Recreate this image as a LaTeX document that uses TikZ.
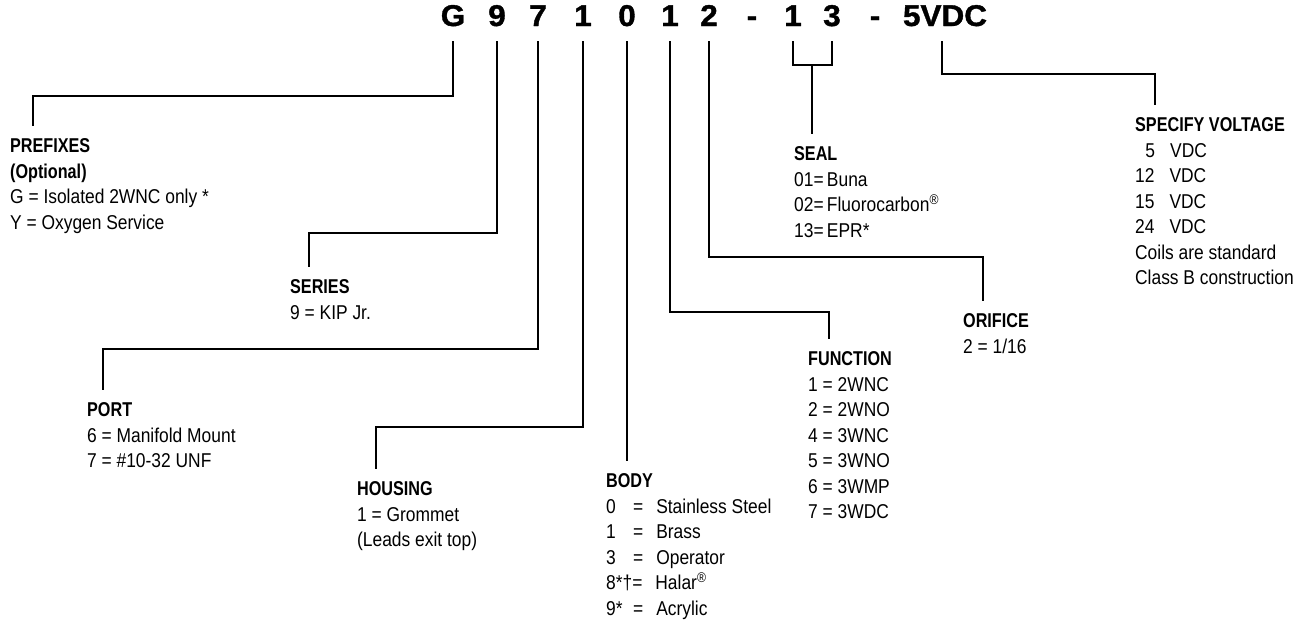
\documentclass[tikz,border=0pt]{standalone}
\usepackage{fontspec}
\setmainfont{Liberation Sans}[FakeStretch=0.87]
\newfontfamily\regf{Liberation Sans}[FakeStretch=0.87]
\newfontfamily\boldf{Liberation Sans}[FakeStretch=0.81]
\newfontfamily\codef{Liberation Sans}[FakeStretch=1.05,FakeBold=1.2]
\newcommand\ttl[1]{{\boldf\bfseries #1}}
\newcommand\kvb[2]{\makebox[27pt][l]{#1}=\hspace{13pt}#2}
\begin{document}
\begin{tikzpicture}[x=1pt,y=-1pt, line width=2.3pt, line cap=butt, line join=miter,
  codech/.style={font=\codef\bfseries\fontsize{30}{31}\selectfont, inner xsep=0pt, inner ysep=14pt, anchor=base},
  lbl/.style={anchor=north west, inner xsep=0pt, inner ysep=11.5pt, align=left, font=\regf\fontsize{20}{25.5}\selectfont},
  lead/.style={draw=black}]
\useasboundingbox (0,0) rectangle (1301,619);

% code characters
\node[codech] (cG)  at (453,26) {G};
\node[codech] (c9)  at (497,26) {9};
\node[codech] (c7)  at (538,26) {7};
\node[codech] (c1a) at (583,26) {1};
\node[codech] (c0)  at (627,26) {0};
\node[codech] (c1b) at (670,26) {1};
\node[codech] (c2)  at (709,26) {2};
\node[codech] (d1)  at (752,26) {-};
\node[codech] (c1c) at (793,26) {1};
\node[codech] (c3)  at (832,26) {3};
\node[codech] (d2)  at (875,26) {-};
\node[codech] (cV)  at (945,26) {5VDC};

% labels
\node[lbl] (pre) at (9,126) {\ttl{PREFIXES}\\ \ttl{(Optional)}\\ G = Isolated 2WNC only *\\ Y = Oxygen Service};
\node[lbl] (ser) at (289,267) {\ttl{SERIES}\\ 9 = KIP Jr.};
\node[lbl] (port) at (86,390) {\ttl{PORT}\\ 6 = Manifold Mount\\ 7 = \#10-32 UNF};
\node[lbl] (hous) at (356,469) {\ttl{HOUSING}\\ 1 = Grommet\\ (Leads exit top)};
\node[lbl] (body) at (605,461) {\ttl{BODY}\\ \kvb{0}{Stainless Steel}\\ \kvb{1}{Brass}\\ \kvb{3}{Operator}\\ 8*†=\hspace{13pt}Halar\textsuperscript{®}\\ \kvb{9*}{Acrylic}};
\node[lbl] (func) at (807,339) {\ttl{FUNCTION}\\ 1 = 2WNC\\ 2 = 2WNO\\ 4 = 3WNC\\ 5 = 3WNO\\ 6 = 3WMP\\ 7 = 3WDC};
\node[lbl] (orif) at (962,301) {\ttl{ORIFICE}\\ 2 = 1/16};
\node[lbl] (seal) at (793,134) {\ttl{SEAL}\\ 01=\,Buna\\ 02=\,Fluorocarbon\textsuperscript{®}\\ 13=\,EPR*};
\node[lbl] (volt) at (1134,105) {\ttl{SPECIFY VOLTAGE}\\ \makebox[20pt][r]{5}\hspace{15pt}VDC\\ 12\hspace{15pt}VDC\\ 15\hspace{15pt}VDC\\ 24\hspace{15pt}VDC\\ Coils are standard\\ Class B construction};

% connectors
\coordinate (kG) at (33,96);
\draw[lead] (cG.south) |- (kG) -- (kG |- pre.north);
\coordinate (k9) at (309,233);
\draw[lead] (c9.south) |- (k9) -- (k9 |- ser.north);
\coordinate (k7) at (103,349);
\draw[lead] (c7.south) |- (k7) -- (k7 |- port.north);
\coordinate (k1) at (376,427);
\draw[lead] (c1a.south) |- (k1) -- (k1 |- hous.north);
\draw[lead] (c0.south) -- (c0.south |- body.north);
\coordinate (kF) at (829,312);
\draw[lead] (c1b.south) |- (kF) -- (kF |- func.north);
\coordinate (kO) at (983,257);
\draw[lead] (c2.south) |- (kO) -- (kO |- orif.north);
\coordinate (kS) at (812,65);
\draw[lead] (c1c.south) |- (kS) -| (c3.south);
\draw[lead] (kS) -- (kS |- seal.north);
\coordinate (kV) at (1155,74);
\draw[lead] ([xshift=-3pt]cV.south) |- (kV) -- (kV |- volt.north);
\end{tikzpicture}
\end{document}
